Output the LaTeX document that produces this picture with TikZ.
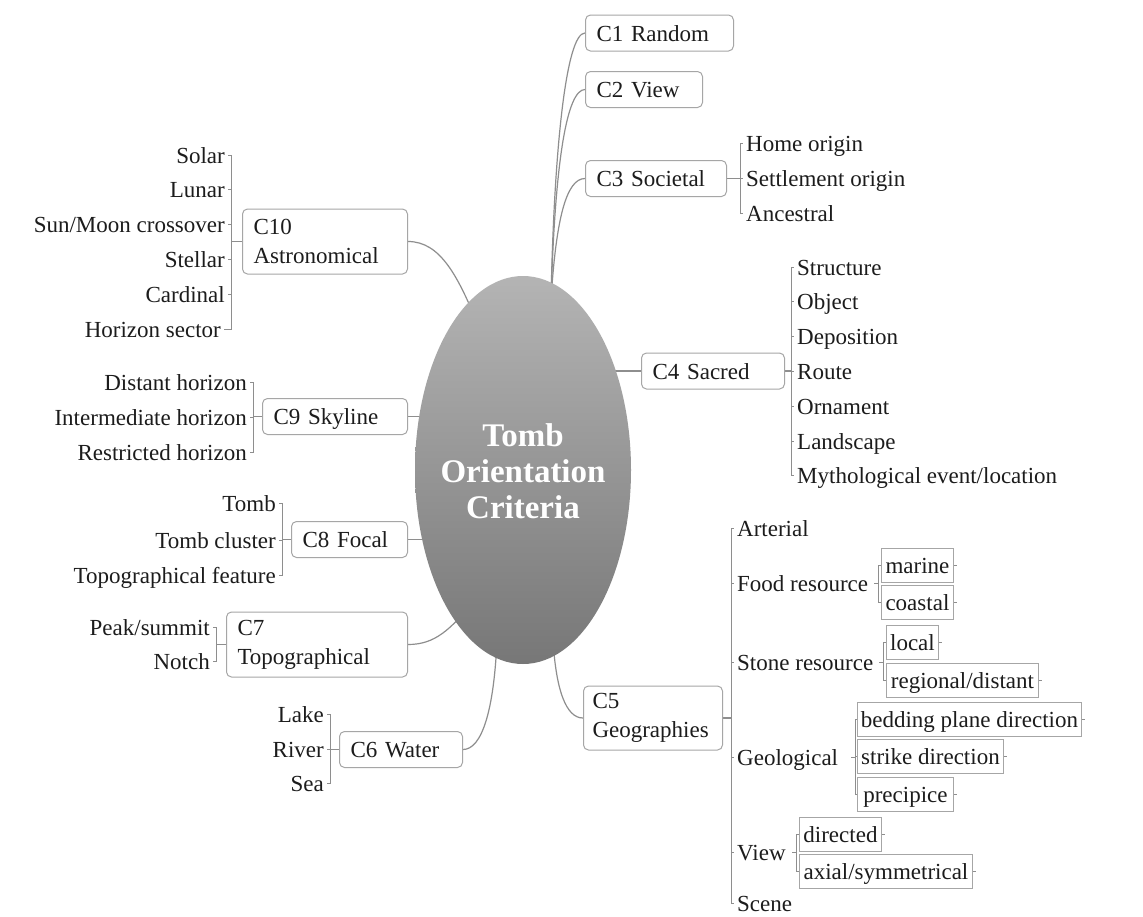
\documentclass[tikz,border=0pt]{standalone}
\usepackage{fontspec}
\setmainfont{Liberation Serif}
\usetikzlibrary{shapes.geometric,backgrounds}
\definecolor{linec}{HTML}{8E8E8E}
\definecolor{boxc}{HTML}{A6A6A6}
\definecolor{txt}{HTML}{1C1C1C}
\definecolor{etop}{HTML}{B4B4B4}
\definecolor{emid}{HTML}{8C8C8C}
\definecolor{ebot}{HTML}{777777}
\begin{document}
\begin{tikzpicture}[x=1pt,y=-1pt,
  font=\fontsize{23}{29}\selectfont, text=txt,
  cbox/.style={draw=boxc, line width=1pt, rounded corners=5pt, fill=white, anchor=west,
    inner xsep=11pt, inner ysep=0pt, align=left, minimum height=36pt, text height=19pt, text depth=3pt},
  mbox/.style={draw=boxc, line width=1pt, rounded corners=5pt, fill=white, anchor=west,
    inner xsep=11pt, inner ysep=0pt, align=left, minimum height=65pt},
  sbox/.style={draw=boxc, line width=0.9pt, fill=white, anchor=west,
    inner xsep=3pt, inner ysep=0pt, minimum height=34pt, text height=19pt, text depth=3pt},
  leafR/.style={anchor=west, inner xsep=3pt, inner ysep=0pt, text height=19pt, text depth=3pt},
  leafL/.style={anchor=east, inner xsep=3pt, inner ysep=0pt, text height=19pt, text depth=3pt},
  conn/.style={draw=linec, line width=1.2pt},
  tick/.style={draw=linec, line width=0.9pt}]
\useasboundingbox (0,0) rectangle (1143,916);

% centre
\node[ellipse, minimum width=216pt, minimum height=388pt, inner sep=0pt,
  top color=etop, middle color=emid, bottom color=ebot] (ell) at (523,470) {};
\node[text=white, font=\bfseries\fontsize{33}{36}\selectfont, align=center] (title) at (523,471) {Tomb\\Orientation\\Criteria};

% main boxes
\node[cbox, text width=126pt] (c1) at (585,33) {C1 Random};
\node[cbox, text width=95pt] (c2) at (585,89.5) {C2 View};
\node[cbox, text width=119pt] (c3) at (585,178.5) {C3 Societal};
\node[cbox, text width=121pt] (c4) at (641,371) {C4 Sacred};
\node[mbox, inner xsep=9pt, text width=121pt, minimum height=64pt] (c5) at (583,718) {C5\\Geographies};
\node[cbox, text width=101pt] (c6) at (339,749.5) {C6 Water};
\node[mbox, text width=159pt] (c7) at (226,644.5) {C7\\Topographical};
\node[cbox, text width=94pt] (c8) at (291,539.5) {C8 Focal};
\node[cbox, text width=123pt] (c9) at (262,416.5) {C9 Skyline};
\node[mbox, text width=143pt] (c10) at (242,241.5) {C10\\Astronomical};

% C3 children
\node[leafR] (ho) at (743,143) {Home origin};
\node[leafR] (so) at (743,178) {Settlement origin};
\node[leafR] (an) at (743,213) {Ancestral};
% C4 children
\node[leafR] (st) at (794,267) {Structure};
\node[leafR] (ob) at (794,301.8) {Object};
\node[leafR] (de) at (794,336.6) {Deposition};
\node[leafR] (ro) at (794,371.4) {Route};
\node[leafR] (or) at (794,406.2) {Ornament};
\node[leafR] (la) at (794,441) {Landscape};
\node[leafR] (my) at (794,475.8) {Mythological event/location};
% C5 children
\node[leafR] (ar) at (734,528) {Arterial};
\node[leafR] (fr) at (734,583) {Food resource};
\node[leafR] (sr) at (734,662) {Stone resource};
\node[leafR] (ge) at (734,757) {Geological};
\node[leafR] (vi) at (734,852) {View};
\node[leafR] (sc) at (734,903.5) {Scene};
% sub boxes
\node[sbox, minimum width=72pt] (ma) at (881,565) {marine};
\node[sbox, minimum width=72pt] (co) at (881,602.5) {coastal};
\node[sbox, minimum width=52pt] (lo) at (886,642.5) {local};
\node[sbox, minimum width=152pt] (rd) at (886,680) {regional/distant};
\node[sbox, minimum width=224pt] (bp) at (857,719.5) {bedding plane direction};
\node[sbox, minimum width=146pt] (sd) at (857,756.5) {strike direction};
\node[sbox, minimum width=96pt] (pr) at (857,794.5) {precipice};
\node[sbox, minimum width=82pt] (di) at (799,834.5) {directed};
\node[sbox, minimum width=173pt] (ax) at (799,871) {axial/symmetrical};

% left children
\node[leafL] (so1) at (228,155) {Solar};
\node[leafL] (lu1) at (228,189.5) {Lunar};
\node[leafL] (sm1) at (228,224) {Sun/Moon crossover};
\node[leafL] (sl1) at (228,259) {Stellar};
\node[leafL] (ca1) at (228,294) {Cardinal};
\node[leafL] (hs1) at (224,329) {Horizon sector};
\node[leafL] (dh) at (250,382) {Distant horizon};
\node[leafL] (ih) at (250,417) {Intermediate horizon};
\node[leafL] (rh) at (250,452) {Restricted horizon};
\node[leafL] (tb) at (279,503) {Tomb};
\node[leafL] (tc) at (279,540) {Tomb cluster};
\node[leafL] (tf) at (279,575) {Topographical feature};
\node[leafL] (pk) at (213,627) {Peak/summit};
\node[leafL] (no) at (213,661) {Notch};
\node[leafL] (lk) at (327,714) {Lake};
\node[leafL] (rv) at (327,749) {River};
\node[leafL] (se) at (327,783) {Sea};

\begin{pgfonlayer}{background}
\fill[white] (0,0) rectangle (1143,916);
% ellipse attachment points (inside the ellipse)
\coordinate (et) at (551,300);
\coordinate (e10) at (480,330);
\coordinate (e7) at (475,600);
\coordinate (e6) at (497,640);
\coordinate (e5) at (553,640);
% main connectors
\draw[conn] (c1.west) .. controls (566,33) and (554,150) .. (et);
\draw[conn] (c2.west) .. controls (567,89.5) and (555,160) .. (et);
\draw[conn] (c3.west) .. controls (566,178.5) and (556,220) .. (et);
\draw[conn] (c4.west) -- (ell.center |- c4.west);
\draw[conn] (c5.west) .. controls (566,718) and (556,690) .. (e5);
\draw[conn] (c6.east) .. controls (482,749.5) and (494,710) .. (e6);
\draw[conn] (c7.east) .. controls (435,644.5) and (450,630) .. (e7);
\draw[conn] (c8.east) -- (ell.center |- c8.east);
\draw[conn] (c9.east) -- (ell.center |- c9.east);
\draw[conn] (c10.east) .. controls (440,241.5) and (458,275) .. (e10);
% brackets right
\coordinate (b3) at (740,178.5);
\draw[conn] (c3.east) -- (b3);
\foreach \n in {ho,so,an} \draw[tick] (b3) |- (\n.west);
\coordinate (b4) at (791,371);
\draw[conn] (c4.east) -- (b4);
\foreach \n in {st,ob,de,ro,or,la,my} \draw[tick] (b4) |- (\n.west);
\coordinate (b5) at (731,718);
\draw[conn] (c5.east) -- (b5);
\foreach \n in {ar,fr,sr,ge,vi,sc} \draw[tick] (b5) |- (\n.west);
\coordinate (bf) at (878,583);
\draw[tick] (bf) -- ++(-4,0);
\foreach \n in {ma,co} \draw[tick] (bf) |- (\n.west);
\coordinate (bs) at (883,662);
\draw[tick] (bs) -- ++(-4,0);
\foreach \n in {lo,rd} \draw[tick] (bs) |- (\n.west);
\coordinate (bg) at (855,757);
\draw[tick] (bg) -- ++(-4,0);
\foreach \n in {bp,sd,pr} \draw[tick] (bg) |- (\n.west);
\coordinate (bv) at (796,852);
\draw[tick] (bv) -- ++(-4,0);
\foreach \n in {di,ax} \draw[tick] (bv) |- (\n.west);
\foreach \n in {ma,co,lo,rd,bp,sd,pr,di,ax} \draw[tick] (\n.east) -- ++(3,0);
% brackets left
\coordinate (b10) at (231,241.5);
\draw[conn] (c10.west) -- (b10);
\foreach \n in {so1,lu1,sm1,sl1,ca1,hs1} \draw[tick] (b10) |- (\n.east);
\coordinate (b9) at (253,416.5);
\draw[conn] (c9.west) -- (b9);
\foreach \n in {dh,ih,rh} \draw[tick] (b9) |- (\n.east);
\coordinate (b8) at (282,539.5);
\draw[conn] (c8.west) -- (b8);
\foreach \n in {tb,tc,tf} \draw[tick] (b8) |- (\n.east);
\coordinate (b7) at (216,644.5);
\draw[conn] (c7.west) -- (b7);
\foreach \n in {pk,no} \draw[tick] (b7) |- (\n.east);
\coordinate (b6) at (330,749.5);
\draw[conn] (c6.west) -- (b6);
\foreach \n in {lk,rv,se} \draw[tick] (b6) |- (\n.east);
\end{pgfonlayer}
\end{tikzpicture}
\end{document}
